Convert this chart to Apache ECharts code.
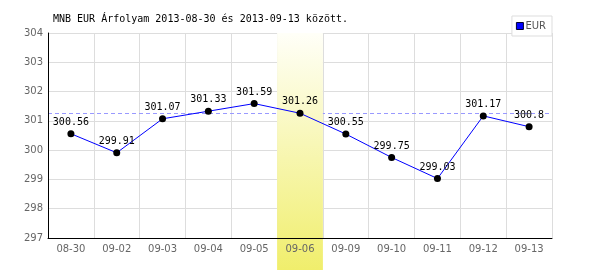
<!DOCTYPE html>
<html>
<head>
<meta charset="utf-8">
<script src="https://cdn.jsdelivr.net/npm/echarts@6/dist/echarts.min.js"></script>
<style>html,body{margin:0;padding:0;background:#fff;}#c{width:600px;height:270px;}</style>
</head>
<body>
<div id="c"></div>
<script>
const titleText = 'MNB EUR Árfolyam 2013-08-30 és 2013-09-13 között.';
const seriesName = 'EUR';
const categories = ['08-30','09-02','09-03','09-04','09-05','09-06','09-09','09-10','09-11','09-12','09-13'];
const values = [300.56, 299.91, 301.07, 301.33, 301.59, 301.26, 300.55, 299.75, 299.03, 301.17, 300.8];
const highlightCategory = '09-06';
const referenceValue = 301.26;
const yMin = 297, yMax = 304, yInterval = 1;

const chart = echarts.init(document.getElementById('c'), null, {renderer: 'canvas'});
const mono = 'DejaVu Sans Mono';
const sans = 'DejaVu Sans';
chart.setOption({
  animation: false,
  backgroundColor: '#fff',
  title: {
    text: titleText, left: 53, top: 14, padding: 0,
    textStyle: {fontFamily: mono, fontSize: 10, fontWeight: 'normal', color: '#000'}
  },
  legend: {
    data: [{name: seriesName, icon: 'rect', itemStyle: {color: '#0000ff', borderColor: '#000033', borderWidth: 1}}],
    right: 48, top: 16, padding: [5, 6, 5, 4],
    borderColor: '#dddddd', borderWidth: 1,
    itemWidth: 7, itemHeight: 7, itemGap: 2,
    textStyle: {fontFamily: sans, fontSize: 10, color: '#555', padding: [0,0,0,-3]},
    backgroundColor: '#fff'
  },
  grid: {left: 48, right: 48, top: 33, bottom: 32, containLabel: false},
  xAxis: [{
    type: 'category', data: categories, boundaryGap: true, z: 0,
    axisLine: {show: false}, axisTick: {show: false}, axisLabel: {show: false},
    splitLine: {show: true, interval: 0, lineStyle: {color: '#dddddd', width: 1}}
  }, {
    type: 'category', data: categories, boundaryGap: true, position: 'bottom', z: 5,
    axisLine: {show: true, lineStyle: {color: '#000', width: 1}},
    axisTick: {show: false},
    axisLabel: {interval: 0, margin: 6, fontFamily: sans, fontSize: 10, color: '#666'},
    splitLine: {show: false}
  }],
  yAxis: [{
    type: 'value', min: yMin, max: yMax, interval: yInterval, z: 0,
    axisLine: {show: false}, axisTick: {show: false}, axisLabel: {show: false},
    splitLine: {show: true, lineStyle: {color: '#dddddd', width: 1}}
  }, {
    type: 'value', min: yMin, max: yMax, interval: yInterval, z: 5, position: 'left',
    axisLine: {show: true, lineStyle: {color: '#000', width: 1}},
    axisTick: {show: false},
    axisLabel: {margin: 5, fontFamily: sans, fontSize: 10, color: '#666'},
    splitLine: {show: false}
  }],
  series: [{
    name: 'ref', type: 'line', data: [], z: 1, silent: true,
    markLine: {
      silent: true, symbol: 'none', label: {show: false}, z: 1,
      lineStyle: {color: '#9999ff', type: [4, 3], width: 1},
      data: [{yAxis: referenceValue}]
    }
  }, {
    name: 'band', type: 'custom', z: 1.5, clip: false, silent: true,
    data: [[highlightCategory, yMax]],
    renderItem: function (params, api) {
      const p = api.coord([api.value(0), api.value(1)]);
      const w = api.size([1, 0])[0];
      return {
        type: 'rect',
        shape: {x: p[0] - w / 2, y: p[1], width: w, height: api.getHeight() - p[1]},
        style: {
          fill: new echarts.graphic.LinearGradient(0, 0, 0, 1, [
            {offset: 0, color: '#fffff8'},
            {offset: 1, color: '#f0ee6c'}
          ])
        }
      };
    }
  }, {
    name: seriesName, type: 'line', data: values, z: 3,
    symbol: 'circle', symbolSize: 7,
    itemStyle: {color: '#000'},
    lineStyle: {color: '#0000ff', width: 1},
    label: {show: true, position: 'top', distance: 3, fontFamily: mono, fontSize: 10, color: '#000'}
  }]
});
</script>
</body>
</html>
